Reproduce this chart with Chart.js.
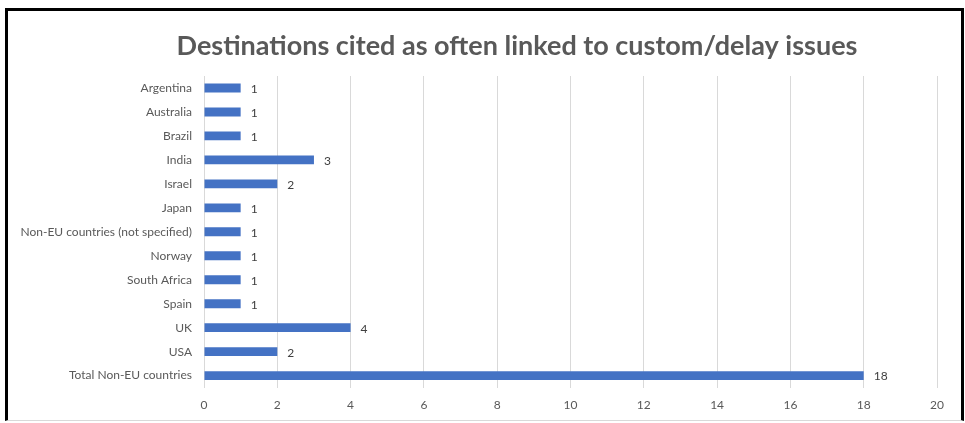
<!DOCTYPE html>
<html>
<head>
<meta charset="utf-8">
<script src="https://cdn.jsdelivr.net/npm/chart.js@4.4.1/dist/chart.umd.min.js"></script>
<style>
  html, body { margin: 0; padding: 0; background: #fff; }
  #wrap { position: relative; width: 965px; height: 423px; }
  #frame {
    position: absolute; left: 5px; top: 8px; width: 959px; height: 413px;
    box-sizing: border-box;
    border-top: 3px solid #000; border-left: 3px solid #000; border-right: 3px solid #000;
    border-bottom: 1px solid #d9d9d9;
    pointer-events: none;
  }
</style>
</head>
<body>
<div id="wrap">
  <canvas id="chart" width="965" height="423"></canvas>
  <div id="frame"></div>
</div>
<script>
// chart data
var countries = ['Argentina', 'Australia', 'Brazil', 'India', 'Israel', 'Japan',
  'Non-EU countries (not specified)', 'Norway', 'South Africa', 'Spain', 'UK', 'USA',
  'Total Non-EU countries'];
var counts = [1, 1, 1, 3, 2, 1, 1, 1, 1, 1, 4, 2, 18];
var chartTitle = 'Destinations cited as often linked to custom/delay issues';

var FONT = 'Lato, "Open Sans", sans-serif';

// draws the value at the end of each bar
var barValues = {
  id: 'barValues',
  afterDatasetsDraw: function(chart) {
    var ctx = chart.ctx;
    var meta = chart.getDatasetMeta(0);
    ctx.save();
    ctx.font = '12px ' + FONT;
    ctx.fillStyle = '#404040';
    ctx.textAlign = 'left';
    ctx.textBaseline = 'middle';
    meta.data.forEach(function(bar, i) {
      ctx.fillText(chart.data.datasets[0].data[i], bar.x + 10, bar.y + 1);
    });
    ctx.restore();
  }
};

// title sits a bit right of centre, like the excel original
var titleText = {
  id: 'titleText',
  afterDraw: function(chart) {
    var ctx = chart.ctx;
    ctx.save();
    ctx.font = 'bold 27px ' + FONT;
    ctx.fillStyle = '#595959';
    ctx.textAlign = 'center';
    ctx.textBaseline = 'middle';
    ctx.fillText(chartTitle, 517, 46);
    ctx.restore();
  }
};

var ctx = document.getElementById('chart').getContext('2d');
var chart = new Chart(ctx, {
  type: 'bar',
  data: {
    labels: countries,
    datasets: [{
      data: counts,
      backgroundColor: '#4472C4',
      borderWidth: 0,
      barPercentage: 0.37,
      categoryPercentage: 1
    }]
  },
  options: {
    indexAxis: 'y',
    responsive: false,
    animation: false,
    layout: { padding: { left: 8, right: 28, top: 76, bottom: 1 } },
    plugins: {
      legend: { display: false },
      tooltip: { enabled: false },
      title: { display: false }
    },
    scales: {
      x: {
        min: 0,
        max: 20,
        ticks: { stepSize: 2, color: '#595959', font: { family: FONT, size: 12 }, padding: 10 },
        grid: { color: '#d9d9d9', drawTicks: false },
        border: { display: false }
      },
      y: {
        afterFit: function(scale) { scale.width = 196; },
        ticks: { color: '#595959', font: { family: FONT, size: 12 }, padding: 12 },
        grid: { display: false, drawTicks: false },
        border: { display: false }
      }
    }
  },
  plugins: [barValues, titleText]
});
</script>
</body>
</html>
